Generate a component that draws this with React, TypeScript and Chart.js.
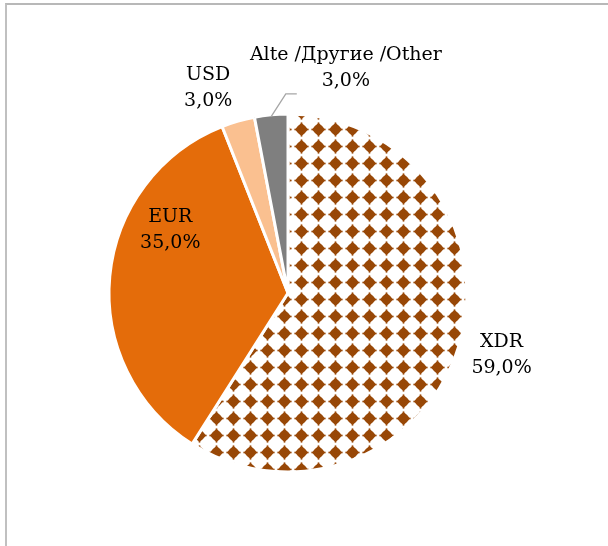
import React, { useEffect, useRef } from "react";
import { Chart, registerables } from "chart.js";

Chart.register(...registerables);

// ---- data ----
const categories = ["XDR", "EUR", "USD", "Alte /Другие /Other"];
const shares = [59.0, 35.0, 3.0, 3.0];

// ---- styles ----
const sliceColors = ["#984807", "#E46C0A", "#FAC090", "#7F7F7F"];
// label placement: offset of the label anchor angle from slice mid-angle (deg), distance in radii
const labelPlacement = [
  { dAngle: 0, dist: 1.253 },
  { dAngle: 22.7, dist: 0.752 },
  { dAngle: -5.1, dist: 1.238 },
  { dAngle: 19.8, dist: 1.311 },
];
const FONT = '19px "DejaVu Serif", serif';

function makePattern(ctx: CanvasRenderingContext2D): CanvasPattern | string {
  const s = 17;
  const tile = document.createElement("canvas");
  tile.width = s;
  tile.height = s;
  const t = tile.getContext("2d");
  if (!t) return sliceColors[0];
  t.fillStyle = "#ffffff";
  t.fillRect(0, 0, s, s);
  t.fillStyle = sliceColors[0];
  const c = s / 2;
  const h = 6.4;
  const k = h * 0.6;
  t.beginPath();
  t.moveTo(c, c - h);
  t.quadraticCurveTo(c + k, c - k, c + h, c);
  t.quadraticCurveTo(c + k, c + k, c, c + h);
  t.quadraticCurveTo(c - k, c + k, c - h, c);
  t.quadraticCurveTo(c - k, c - k, c, c - h);
  t.closePath();
  t.fill();
  t.fillRect(c - 0.8, c - 7.1, 1.6, 14.2);
  t.fillRect(c - 7.1, c - 0.8, 14.2, 1.6);
  const p = ctx.createPattern(tile, "repeat");
  if (!p) return sliceColors[0];
  p.setTransform(new DOMMatrix().translate(12.5 - c, 10.5 - c));
  return p;
}

const fmt = (v: number) => v.toFixed(1).replace(".", ",") + "%";

const labelPlugin = {
  id: "pieLabels",
  afterDatasetsDraw(chart: any) {
    const ctx: CanvasRenderingContext2D = chart.ctx;
    const meta = chart.getDatasetMeta(0);
    ctx.save();
    ctx.font = FONT;
    ctx.fillStyle = "#000000";
    ctx.textAlign = "center";
    ctx.textBaseline = "middle";
    meta.data.forEach((arc: any, i: number) => {
      const { x, y, startAngle, endAngle, outerRadius } = arc.getProps(
        ["x", "y", "startAngle", "endAngle", "outerRadius"],
        true
      );
      const mid = (startAngle + endAngle) / 2;
      const pl = labelPlacement[i];
      const a = mid + (pl.dAngle * Math.PI) / 180;
      const R = outerRadius - 1.5;
      const lx = x + Math.cos(a) * R * pl.dist;
      const ly = y + Math.sin(a) * R * pl.dist;
      ctx.fillText(categories[i], lx, ly - 13);
      ctx.fillText(fmt(shares[i]), lx, ly + 13);
      if (i === 3) {
        const ex = x + Math.cos(mid) * R;
        const ey = y + Math.sin(mid) * R;
        const bx = ex + 14.5;
        const by = ey - 22.5;
        ctx.save();
        ctx.strokeStyle = "#A6A6A6";
        ctx.lineWidth = 1.3;
        ctx.beginPath();
        ctx.moveTo(ex, ey);
        ctx.lineTo(bx, by);
        ctx.lineTo(bx + 11, by);
        ctx.stroke();
        ctx.restore();
      }
    });
    ctx.restore();
  },
};

export default function App() {
  const ref = useRef<HTMLCanvasElement | null>(null);
  useEffect(() => {
    const canvas = ref.current;
    if (!canvas) return;
    const ctx = canvas.getContext("2d");
    if (!ctx) return;
    const pattern = makePattern(ctx);
    const chart = new Chart(canvas, {
      type: "pie",
      data: {
        labels: categories,
        datasets: [
          {
            data: shares,
            backgroundColor: [pattern, sliceColors[1], sliceColors[2], sliceColors[3]] as any,
            borderColor: "#ffffff",
            borderWidth: 3,
          },
        ],
      },
      options: {
        responsive: false,
        animation: false,
        devicePixelRatio: 1,
        layout: { padding: { left: 107.5, right: 139.5, top: 112.5, bottom: 72.5 } },
        plugins: {
          legend: { display: false },
          tooltip: { enabled: false },
          title: { display: false },
        },
      },
      plugins: [labelPlugin],
    });
    return () => chart.destroy();
  }, []);

  return (
    <div
      style={{
        position: "fixed",
        left: 0,
        top: 0,
        width: 608,
        height: 546,
        background: "#ffffff",
        overflow: "hidden",
      }}
    >
      <div
        style={{
          position: "absolute",
          left: 5,
          top: 3,
          width: 700,
          height: 700,
          borderLeft: "2px solid #C0C0C0",
          borderTop: "2px solid #B8B8B8",
        }}
      />
      <canvas
        ref={ref}
        width={608}
        height={546}
        style={{ position: "absolute", left: 0, top: 0, width: 608, height: 546 }}
      />
    </div>
  );
}
